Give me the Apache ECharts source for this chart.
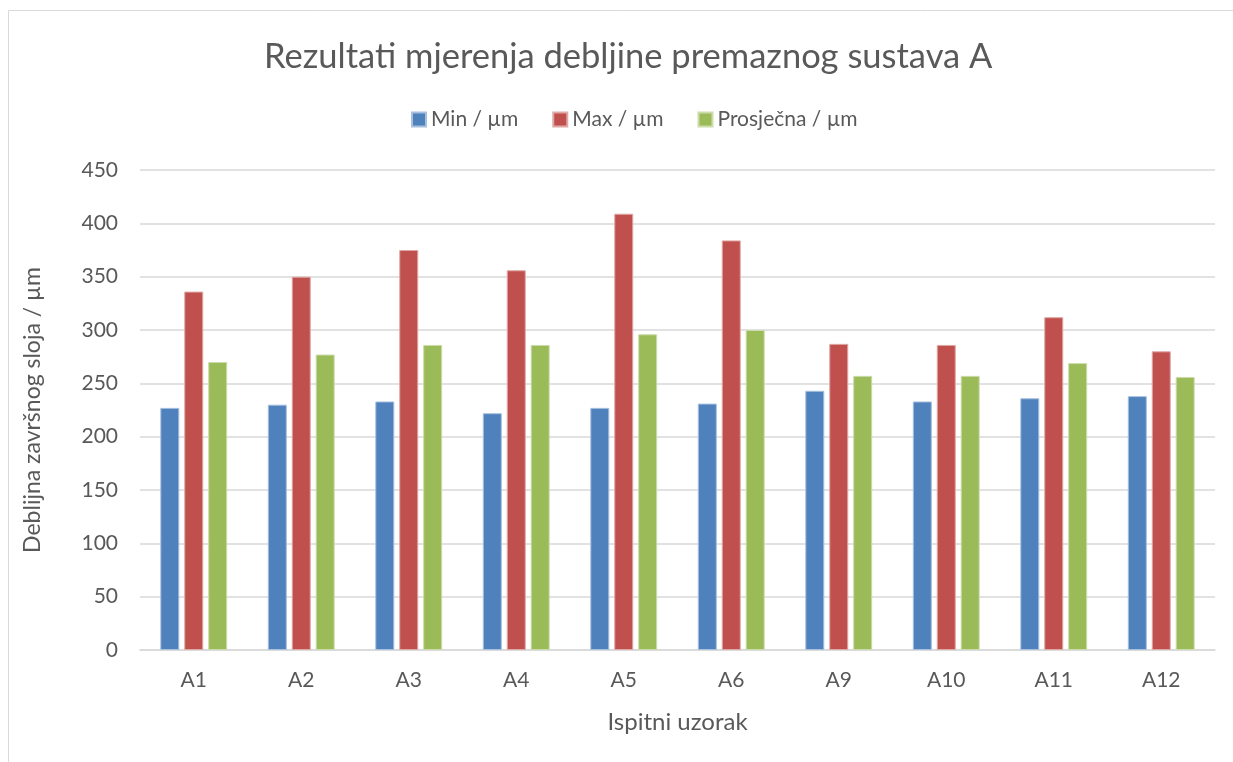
<!DOCTYPE html>
<html><head><meta charset="utf-8">
<script src="https://cdn.jsdelivr.net/npm/echarts@6/dist/echarts.min.js"></script>
<style>html,body{margin:0;padding:0;background:#fff}#c{width:1233px;height:762px}</style>
</head><body><div id="c"></div>
<script>
const categories = ['A1','A2','A3','A4','A5','A6','A9','A10','A11','A12'];
const minVals = [227,230,233,222,227,231,243,233,236,238];
const maxVals = [336,350,375,356,409,384,287,286,312,280];
const avgVals = [270,277,286,286,296,300,257,257,269,256];
const seriesNames = ['Min / µm','Max / µm','Prosječna / µm'];
const yTicks = {min:0, max:450, interval:50};

const font = 'Lato, "Open Sans", sans-serif';
const chart = echarts.init(document.getElementById('c'));
const mk = (name, data, color, border) => ({
  name, type:'bar', data, barWidth:19, barGap:'26%',
  itemStyle:{color, borderColor:border, borderWidth:1},
  emphasis:{disabled:true}
});
chart.setOption({
  animation:false,
  graphic:[{type:'rect', shape:{x:8.5,y:10.5,width:1240,height:760}, style:{fill:'none', stroke:'#d9d9d9', lineWidth:1}, silent:true}],
  title:{text:'Rezultati mjerenja debljine premaznog sustava A', left:259, top:34,
    textStyle:{fontFamily:font, fontSize:34.5, fontWeight:'normal', color:'#595959'}},
  legend:{top:104, left:406, itemWidth:14, itemHeight:14, itemGap:34,
    icon:'rect', textStyle:{fontFamily:font, fontSize:21, color:'#595959'}, data:seriesNames},
  grid:{left:140, right:18, top:170, bottom:112, containLabel:false},
  xAxis:{type:'category', data:categories, name:'Ispitni uzorak', nameLocation:'middle', nameGap:60,
    nameTextStyle:{fontFamily:font, fontSize:24, color:'#595959'},
    axisLine:{lineStyle:{color:'#d9d9d9', width:1.5}}, axisTick:{show:false},
    axisLabel:{fontFamily:font, fontSize:21, color:'#595959', margin:20}},
  yAxis:{type:'value', min:yTicks.min, max:yTicks.max, interval:yTicks.interval,
    name:'Deblijna završnog sloja / µm', nameLocation:'middle', nameGap:96, nameRotate:90,
    nameTextStyle:{fontFamily:font, fontSize:23, color:'#595959'},
    axisLine:{show:false}, axisTick:{show:false},
    axisLabel:{fontFamily:font, fontSize:21, color:'#595959', margin:22},
    splitLine:{lineStyle:{color:'#d9d9d9', width:1.5}}},
  series:[
    mk(seriesNames[0], minVals, '#4F81BD', '#a7c0de'),
    mk(seriesNames[1], maxVals, '#C0504D', '#dfa8a6'),
    mk(seriesNames[2], avgVals, '#9BBB59', '#cddcac')
  ]
});
</script></body></html>
